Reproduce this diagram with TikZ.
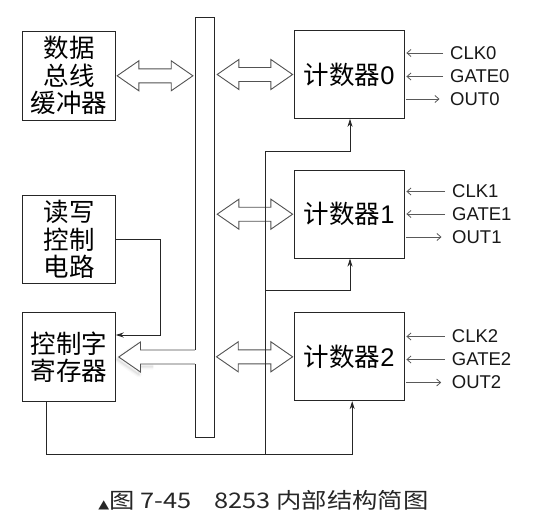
\documentclass[tikz,border=0pt]{standalone}
\usepackage{fontspec}
\setmainfont{Liberation Sans}
\newfontfamily\cjk{Noto Sans CJK SC}
\newfontfamily\dejavu{DejaVu Sans}
\usetikzlibrary{arrows.meta,calc}
\tikzset{
 blk/.style={draw=black!85, line width=0.9pt, inner sep=0pt, minimum width=92.6pt, minimum height=88.5pt, align=center, font=\cjk\fontsize{25.5}{27.5}\selectfont},
 cnt/.style={blk, minimum width=110.3pt, minimum height=87.8pt},
 busbar/.style={draw=black!85, line width=0.9pt, inner sep=0pt, minimum width=18.7pt, minimum height=420pt},
 hollow/.style={draw=black!68, line width=0.9pt, line join=miter, fill=white},
 wire/.style={draw=black!85, line width=0.8pt},
 wirearrow/.style={wire, -{Stealth[length=8pt,width=5pt]}},
 sig/.style={draw=black!65, line width=0.8pt, -{Straight Barb[length=4pt,width=7pt]}},
 siglabel/.style={anchor=west, inner sep=0pt, font=\fontsize{18.5}{18.5}\selectfont, text=black!90},
 captext/.style={inner sep=0pt, text=black!85, xscale=1.18, transform shape},
}
\newcommand\dblarr[2]{\draw[hollow] let \p1=(#1), \p2=(#2) in (\p1) -- ++(21.7pt,15pt) -- ++(0,-8pt) -- (\x2-21.7pt,\y1+7pt) -- ++(0,8pt) -- (\p2) -- ++(-21.7pt,-15pt) -- ++(0,8pt) -- (\x1+21.7pt,\y1-7pt) -- ++(0,-8pt) -- cycle;}
\begin{document}
\begin{tikzpicture}[x=1pt,y=-1pt]
\useasboundingbox[fill=white] (0,0) rectangle (548,522);
% blocks
\node[blk] (buf) at (69,75.8) {数据\\总线\\缓冲器};
\node[blk] (rw) at (69,239.3) {读写\\控制\\电路};
\node[blk] (cwr) at (69,357) {控制字\\寄存器};
\node[busbar] (bus) at (204.7,227.3) {};
\node[cnt] (c0) at (349.2,74.5) {计数器\fontspec{Liberation Sans}0};
\node[cnt] (c1) at (349.2,214.2) {计数器\fontspec{Liberation Sans}1};
\node[cnt] (c2) at (349.2,356.8) {计数器\fontspec{Liberation Sans}2};
% double arrows
\dblarr{[xshift=1.4pt]buf.east}{[xshift=-2pt]bus.west |- buf.east}
\dblarr{[xshift=2.7pt]bus.east |- c0.west}{[xshift=-1pt]c0.west}
\dblarr{[xshift=2.7pt]bus.east |- c1.west}{[xshift=-1pt]c1.west}
\dblarr{[xshift=2pt]bus.east |- c2.west}{[xshift=-1pt]c2.west}
% single hollow arrow from bus to control word register
\coordinate (cwtip) at ([xshift=3pt]cwr.east);
\coordinate (cwbase) at (bus.west |- cwtip);
\foreach \w/\o in {6pt/0.025,3.5pt/0.035,1.5pt/0.05}{
 \draw[black, opacity=\o, line width=\w, line join=round] let \p1=(cwtip), \p2=(cwbase) in
  ([shift={(-1.5pt,-2.5pt)}]\x2-40pt,\y1-7pt) -- ([shift={(-1.5pt,-2.5pt)}]\x1+21.7pt,\y1-7pt) -- ++(0,-8pt) -- ([shift={(-1.5pt,-2.5pt)}]\p1) -- ++(21.7pt,15pt);
}
\fill[white] let \p2=(cwbase) in (\x2-1pt,\y2+6.6pt) rectangle (\x2+1pt,\y2-6.6pt);
\draw[hollow] let \p1=(cwtip), \p2=(cwbase) in (\x2,\y1+7pt) -- (\x1+21.7pt,\y1+7pt) -- ++(0,8pt) -- (\p1) -- ++(21.7pt,-15pt) -- ++(0,8pt) -- (\x2,\y1-7pt);
% control wiring
\coordinate (bend) at (160.3,290);
\coordinate (j0) at (265,151.7);
\coordinate (j1) at (265,290);
\coordinate (j2) at (265,454.3);
\draw[wirearrow] (rw.east) -| (bend) |- ([yshift=22pt]cwr.east);
\draw[wirearrow] ([xshift=-23pt]cwr.south) |- (j2) -| ([xshift=3pt]c2.south);
\draw[wire] (j2) -- (j0);
\draw[wirearrow] (j0) -| ([xshift=0.8pt]c0.south);
\draw[wirearrow] (j1) -| ([xshift=0.8pt]c1.south);
% signal labels
\node[siglabel] (clk0) at (450,53) {CLK0};
\node[siglabel] (gate0) at (450,76.5) {GATE0};
\node[siglabel] (out0) at (450,99) {OUT0};
\node[siglabel] (clk1) at (452,191.5) {CLK1};
\node[siglabel] (gate1) at (452,214) {GATE1};
\node[siglabel] (out1) at (452,237) {OUT1};
\node[siglabel] (clk2) at (451.7,336.5) {CLK2};
\node[siglabel] (gate2) at (451.7,359.5) {GATE2};
\node[siglabel] (out2) at (451.7,382.5) {OUT2};
\foreach \c/\n in {c0/0,c1/1,c2/2}{
 \draw[sig, shorten >=1.6pt] ([xshift=-6.8pt]clk\n.west) -- (clk\n.west -| \c.east);
 \draw[sig, shorten >=1.6pt] ([xshift=-6.8pt]gate\n.west) -- (gate\n.west -| \c.east);
 \draw[sig, shorten <=1.6pt] (out\n.west -| \c.east) -- ([xshift=-10.5pt]out\n.west);
}
% caption
\node[captext] (cap) at (263.5,500) {{\dejavu\fontsize{12}{12}\selectfont ▲}{\cjk\fontsize{21.5}{21.5}\selectfont 图 7-45\hspace{0.9em}8253 内部结构简图}};
\end{tikzpicture}
\end{document}
